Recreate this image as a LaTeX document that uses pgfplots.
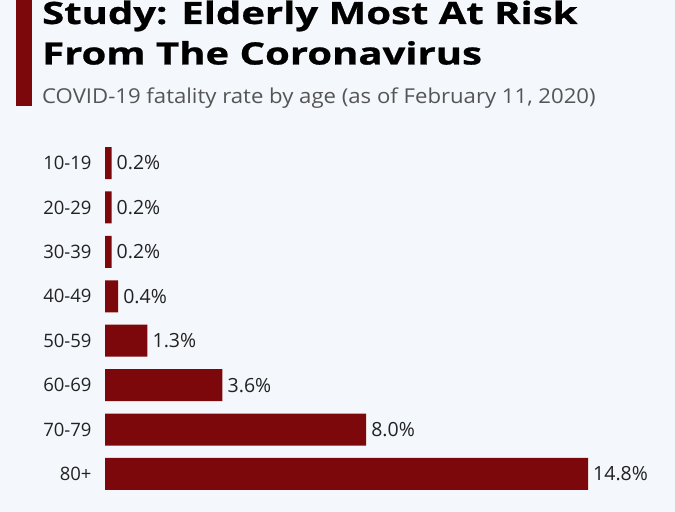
\documentclass[border=0pt]{standalone}
\usepackage{pgfplots}
\pgfplotsset{compat=1.18}
\usepackage{fontspec}
\setmainfont{Open Sans}
\newfontfamily\titlefont[FakeStretch=1.3,FakeBold=0.8]{Open Sans}
\newfontfamily\subfont[FakeStretch=1.08]{Open Sans}
\definecolor{bg}{HTML}{F4F7FB}
\definecolor{barred}{HTML}{7D080B}
\definecolor{txt}{HTML}{222222}
\definecolor{sub}{HTML}{555555}
\begin{document}
\begin{tikzpicture}[x=1bp,y=1bp]
\fill[bg] (0,0) rectangle (675,512);
\path[use as bounding box] (0,0) rectangle (675,512);
\fill[barred] (16,512) rectangle (32,406);
\node[anchor=base west,inner sep=0pt,text=black,font=\titlefont\fontsize{30.8bp}{36bp}\selectfont\bfseries] at (42,488) {Study: Elderly Most At Risk};
\node[anchor=base west,inner sep=0pt,text=black,font=\titlefont\fontsize{30.8bp}{36bp}\selectfont\bfseries] at (42,447.5) {From The Coronavirus};
\node[anchor=base west,inner sep=0pt,text=sub,font=\subfont\fontsize{20.5bp}{24bp}\selectfont] at (42,408) {COVID-19 fatality rate by age (as of February 11, 2020)};
\begin{axis}[
  at={(105bp,371.2bp)}, anchor=north west,
  scale only axis, width=483bp, height=355.4bp,
  xbar, bar width=32bp,
  xmin=0, xmax=14.8, ymin=-0.5, ymax=7.5,
  y dir=reverse,
  axis line style={draw=none}, tick style={draw=none},
  xtick=\empty,
  ytick={0,1,2,3,4,5,6,7},
  yticklabels={10-19,20-29,30-39,40-49,50-59,60-69,70-79,80+},
  yticklabel style={font=\fontsize{18.5bp}{22bp}\selectfont, text=txt, inner sep=0pt, anchor=east, xshift=-9bp},
  nodes near coords={\pgfmathprintnumber[fixed,fixed zerofill,precision=1,assume math mode=true]{\pgfplotspointmeta}\%},
  nodes near coords style={font=\fontsize{19.5bp}{23bp}\selectfont, text=txt, inner sep=0pt, anchor=west, xshift=5bp},
  point meta=x,
  clip=false,
]
\addplot[fill=barred, draw=none] coordinates {(0.2,0) (0.2,1) (0.2,2) (0.4,3) (1.3,4) (3.6,5) (8.0,6) (14.8,7)};
\end{axis}
\end{tikzpicture}
\end{document}
